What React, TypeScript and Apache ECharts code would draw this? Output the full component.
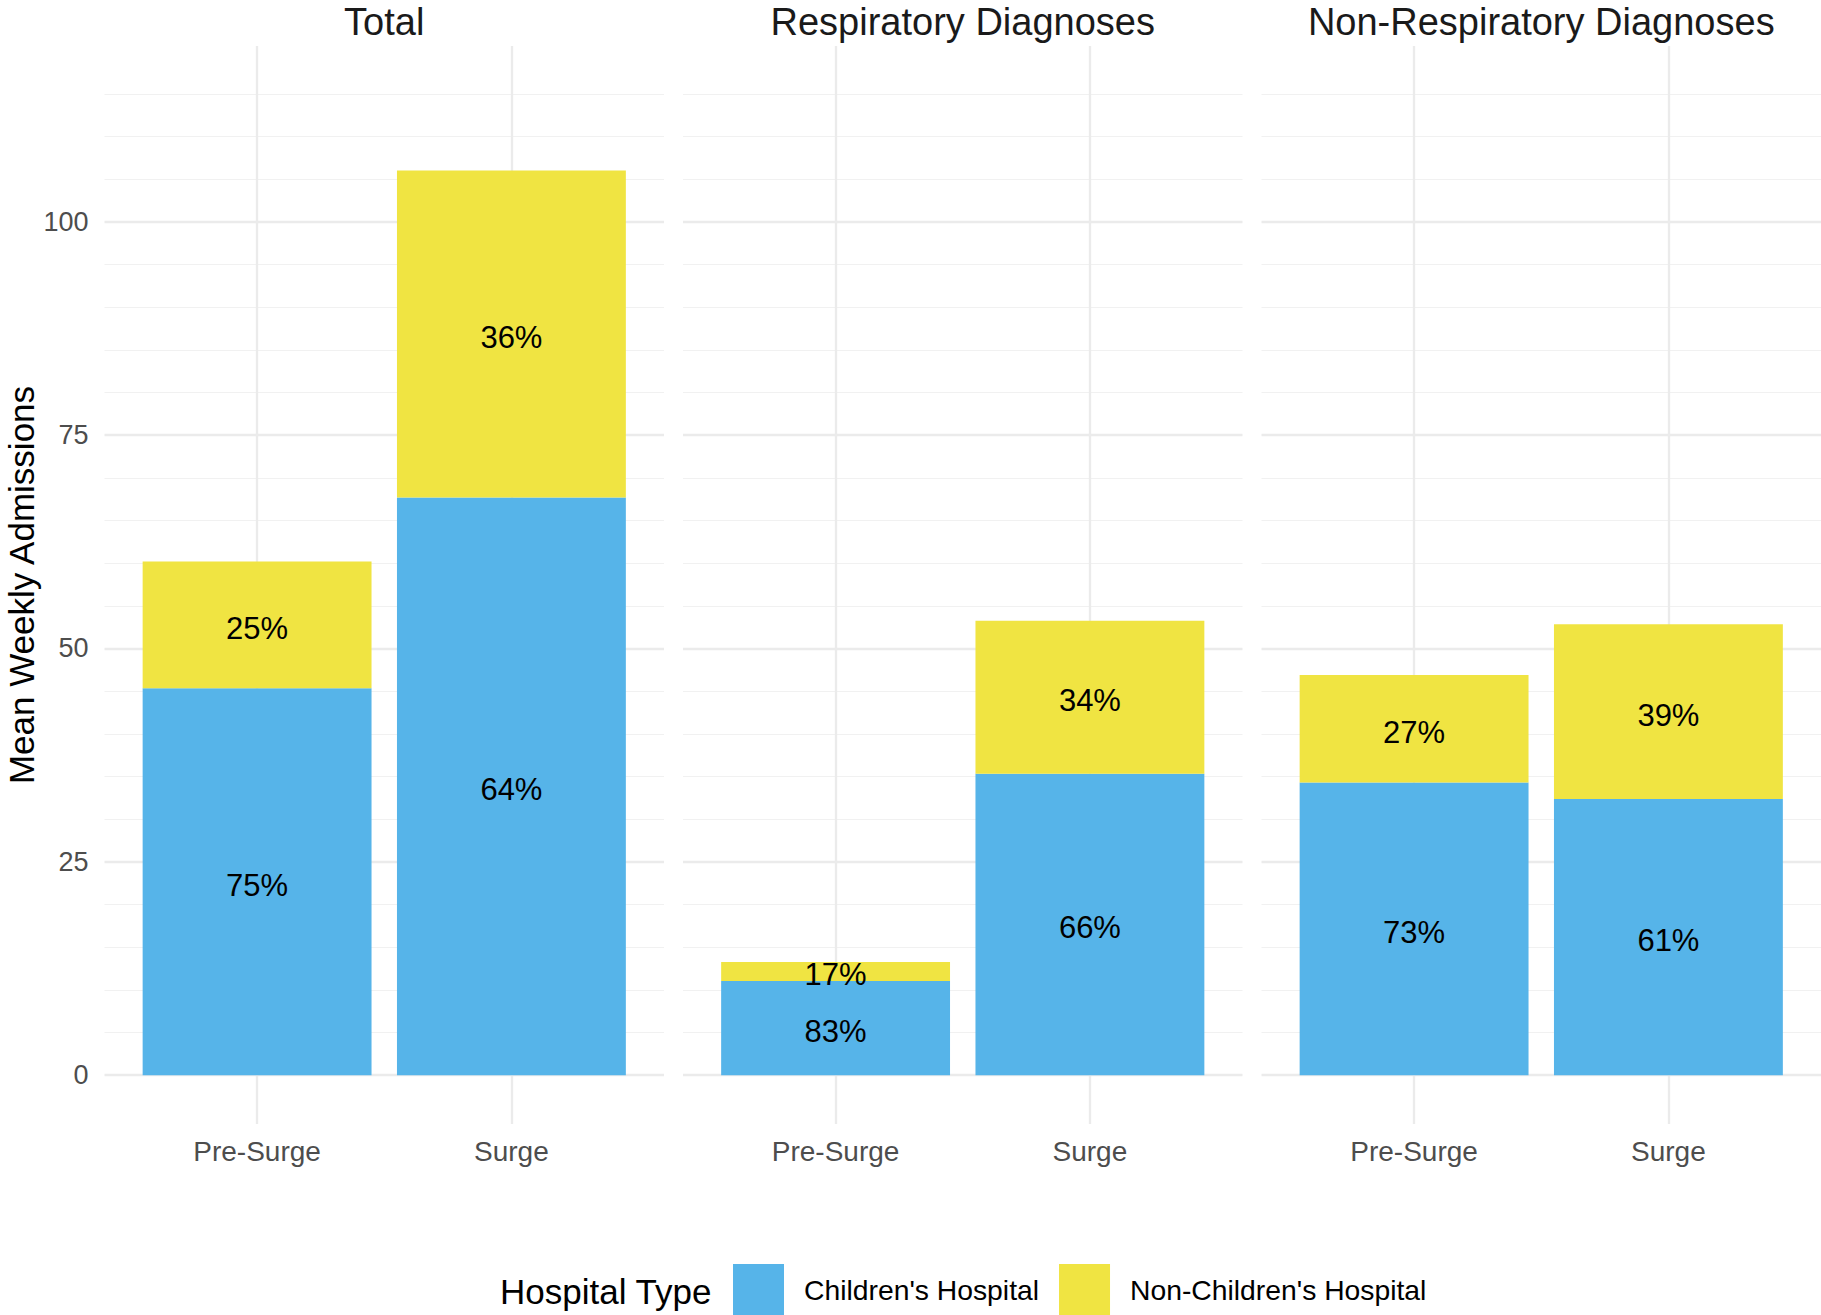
import React, { useEffect, useRef } from "react";
import * as echarts from "echarts";

const FONT = '"Liberation Sans", Arial, Helvetica, sans-serif';

const panels = ["Total", "Respiratory Diagnoses", "Non-Respiratory Diagnoses"];
const periods = ["Pre-Surge", "Surge"];
const hospitalTypes = ["Children's Hospital", "Non-Children's Hospital"];

const childrenTotal = [45.33, 67.7];
const childrenResp = [11.04, 35.33];
const childrenNonResp = [34.31, 32.37];
const nonChildrenTotal = [14.87, 38.3];
const nonChildrenResp = [2.23, 17.93];
const nonChildrenNonResp = [12.59, 20.46];

const yTicks = [0, 25, 50, 75, 100];
const yMinorTicks = [5, 10, 15, 20, 30, 35, 40, 45, 55, 60, 65, 70, 80, 85, 90, 95, 105, 110, 115];
const Y_MIN = -5.72;
const Y_MAX = 120.6;

const COLORS = ["#56B4E9", "#F0E442"];

export default function App() {
  const ref = useRef<HTMLDivElement>(null);
  useEffect(() => {
    const chart = echarts.init(ref.current!, null, { renderer: "svg" });
    const children = [childrenTotal, childrenResp, childrenNonResp];
    const nonChildren = [nonChildrenTotal, nonChildrenResp, nonChildrenNonResp];

    const panelLefts = [104.5, 683, 1261.5];
    const panelWidth = 559.5;
    const panelTop = 46;
    const panelHeight = 1078;
    const unit = panelWidth / 2.2;
    const n = panels.length;

    const bgGrids = panelLefts.map((l) => ({ left: l, top: panelTop, width: panelWidth, height: panelHeight }));
    const barGrids = panelLefts.map((l) => ({ left: l + 0.1 * unit, top: panelTop, width: 2 * unit, height: panelHeight }));

    const bgX = panelLefts.map((_, i) => ({
      type: "value",
      gridIndex: i,
      min: -0.6,
      max: 1.6,
      axisLine: { show: false },
      axisTick: { show: false },
      splitLine: { show: false },
      axisLabel: { show: false },
    }));
    const bgY = panelLefts.map((_, i) => ({
      type: "value",
      gridIndex: i,
      min: Y_MIN,
      max: Y_MAX,
      axisLine: { show: false },
      axisTick: { show: false },
      splitLine: { show: false },
      axisLabel:
        i === 0
          ? { customValues: yTicks, color: "#4d4d4d", fontSize: 27, margin: 16, fontFamily: FONT }
          : { show: false },
    }));
    const barX = panelLefts.map((_, i) => ({
      type: "category",
      gridIndex: n + i,
      data: periods,
      boundaryGap: true,
      axisLine: { show: false },
      axisTick: { show: false },
      splitLine: { show: false },
      axisLabel: { color: "#4d4d4d", fontSize: 28, margin: 13, fontFamily: FONT, interval: 0 },
    }));
    const barY = panelLefts.map((_, i) => ({
      type: "value",
      gridIndex: n + i,
      min: Y_MIN,
      max: Y_MAX,
      axisLine: { show: false },
      axisTick: { show: false },
      splitLine: { show: false },
      axisLabel: { show: false },
    }));

    const gridLineData = [
      ...yMinorTicks.map((v) => ({ yAxis: v, lineStyle: { color: "#f1f1f1", width: 1.2, type: "solid" } })),
      ...yTicks.map((v) => ({ yAxis: v, lineStyle: { color: "#ebebeb", width: 2.3, type: "solid" } })),
      ...periods.map((_, j) => ({ xAxis: j, lineStyle: { color: "#ebebeb", width: 2.3, type: "solid" } })),
    ];

    const series: any[] = [];
    panels.forEach((_, i) => {
      series.push({
        type: "line",
        name: "grid" + i,
        xAxisIndex: i,
        yAxisIndex: i,
        data: [],
        silent: true,
        z: 0,
        markLine: {
          silent: true,
          z: 0,
          symbol: ["none", "none"],
          label: { show: false },
          emphasis: { disabled: true },
          animation: false,
          data: gridLineData,
        },
      });
    });
    panels.forEach((_, i) => {
      const pct = (a: number, b: number) => Math.round((100 * a) / (a + b)) + "%";
      const labelStyle = {
        show: true,
        position: "inside",
        offset: [0, 3.5],
        color: "#000",
        fontSize: 31,
        fontFamily: FONT,
        textBorderWidth: 0,
      };
      series.push({
        type: "bar",
        name: hospitalTypes[0],
        xAxisIndex: n + i,
        yAxisIndex: n + i,
        stack: "s" + i,
        barWidth: "90%",
        data: children[i],
        itemStyle: { color: COLORS[0] },
        label: { ...labelStyle, formatter: (p: any) => pct(children[i][p.dataIndex], nonChildren[i][p.dataIndex]) },
      });
      series.push({
        type: "bar",
        name: hospitalTypes[1],
        xAxisIndex: n + i,
        yAxisIndex: n + i,
        stack: "s" + i,
        barWidth: "90%",
        data: nonChildren[i],
        itemStyle: { color: COLORS[1] },
        label: { ...labelStyle, formatter: (p: any) => pct(nonChildren[i][p.dataIndex], children[i][p.dataIndex]) },
      });
    });

    const graphic: any[] = panels.map((t, i) => ({
      type: "text",
      x: panelLefts[i] + panelWidth / 2,
      y: 22,
      style: { text: t, fontSize: 38, fontFamily: FONT, fill: "#1a1a1a", align: "center", verticalAlign: "middle" },
    }));
    graphic.push({
      type: "text",
      x: 21,
      y: panelTop + panelHeight / 2,
      rotation: Math.PI / 2,
      style: {
        text: "Mean Weekly Admissions",
        fontSize: 35,
        fontFamily: FONT,
        fill: "#000",
        align: "center",
        verticalAlign: "middle",
      },
    });
    graphic.push({
      type: "text",
      x: 500,
      y: 1291,
      style: { text: "Hospital Type", fontSize: 35, fontFamily: FONT, fill: "#000", align: "left", verticalAlign: "middle" },
    });

    chart.setOption({
      animation: false,
      backgroundColor: "#ffffff",
      textStyle: { fontFamily: FONT },
      grid: [...bgGrids, ...barGrids],
      xAxis: [...bgX, ...barX],
      yAxis: [...bgY, ...barY],
      series,
      legend: {
        data: hospitalTypes,
        left: 733,
        top: 1264,
        padding: 0,
        itemWidth: 51,
        itemHeight: 51,
        itemGap: 20,
        icon: "rect",
        selectedMode: false,
        textStyle: { fontSize: 28.3, color: "#000", fontFamily: FONT, padding: [0, 0, 0, 15] },
      },
      graphic,
    });
    return () => chart.dispose();
  }, []);
  return <div ref={ref} style={{ position: "absolute", left: 0, top: 0, width: 1821, height: 1315 }} />;
}
